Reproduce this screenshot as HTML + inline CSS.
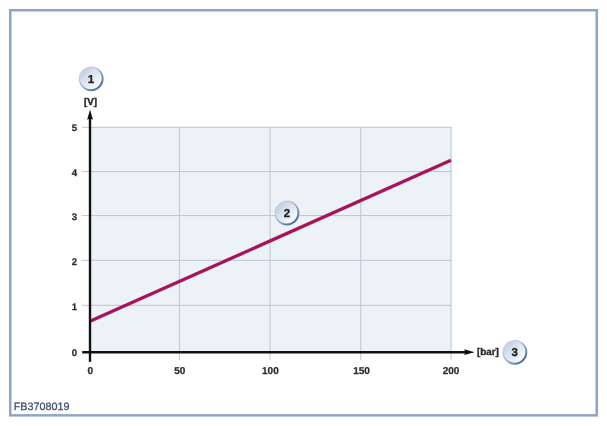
<!DOCTYPE html>
<html>
<head>
<meta charset="utf-8">
<title>FB3708019</title>
<style>
html,body{margin:0;padding:0;background:#fff;}
body{width:607px;height:426px;overflow:hidden;}
svg{display:block;}
text{font-family:"Liberation Sans",Arial,Helvetica,sans-serif;text-rendering:geometricPrecision;}
.tick{font-size:9.6px;font-weight:bold;fill:#2b2b2b;stroke:#2b2b2b;stroke-width:0.25px;}
.unit{font-size:9.8px;font-weight:bold;fill:#2b2b2b;stroke:#2b2b2b;stroke-width:0.4px;}
.num{font-size:11.5px;font-weight:bold;fill:#222;stroke:#222;stroke-width:0.3px;}
.code{font-size:10.75px;fill:#3b4a68;stroke:#3b4a68;stroke-width:0.25px;}
</style>
</head>
<body>
<svg width="607" height="426" viewBox="0 0 607 426">
  <defs>
    <linearGradient id="brim" x1="0.15" y1="0.1" x2="0.85" y2="0.92">
      <stop offset="0" stop-color="#cbd6e5"/>
      <stop offset="0.4" stop-color="#a9bbd4"/>
      <stop offset="0.7" stop-color="#7390b5"/>
      <stop offset="1" stop-color="#45679a"/>
    </linearGradient>
    <linearGradient id="bfill" x1="0.12" y1="0.1" x2="0.85" y2="0.9">
      <stop offset="0" stop-color="#bfcde0"/>
      <stop offset="0.35" stop-color="#d7e0ec"/>
      <stop offset="0.7" stop-color="#e9eef5"/>
      <stop offset="1" stop-color="#f9fbfd"/>
    </linearGradient>
    <g id="bubble">
      <circle cx="0" cy="0" r="12.4" fill="url(#brim)"/>
      <circle cx="-0.45" cy="-0.45" r="10.9" fill="url(#bfill)"/>
    </g>
  </defs>
  <rect x="0" y="0" width="607" height="426" fill="#ffffff"/>
  <!-- frame -->
  <rect x="10.25" y="10.25" width="586.5" height="405.1" fill="none" stroke="#8fa5c6" stroke-width="2.5"/>

  <!-- plot background -->
  <rect x="90" y="126.8" width="361.5" height="225.2" fill="#edf2f6"/>
  <!-- grid -->
  <g stroke="#b9c5db" stroke-width="1" fill="none">
    <path d="M82 127.3H451.5M82 171.6H451.5M82 215.6H451.5M82 260.3H451.5M82 305.3H451.5"/>
    <path d="M179.4 127V360M270 127V360M360.8 127V360M451 127V360"/>
  </g>
  <!-- data line -->
  <path d="M90.5 321.1L451 160.3" stroke="#a6145b" stroke-width="3.3" fill="none"/>
  <!-- axes -->
  <g stroke="#111" stroke-width="2.4" fill="none">
    <path d="M90 361.8V118"/>
    <path d="M82.2 352.3H466"/>
  </g>
  <path d="M90.05 109.6L92.95 119.8L90.05 118.6L87.15 119.8Z" fill="#111"/>
  <path d="M474.6 352.2L464.2 355.1L465.4 352.2L464.2 349.3Z" fill="#111"/>

  <!-- y tick labels -->
  <g class="tick" text-anchor="end">
    <text x="77" y="130.6">5</text>
    <text x="77" y="175.5">4</text>
    <text x="77" y="220.1">3</text>
    <text x="77" y="264.9">2</text>
    <text x="77" y="309.7">1</text>
    <text x="77" y="355.8">0</text>
  </g>
  <!-- x tick labels -->
  <g class="tick" text-anchor="middle" style="font-size:10px">
    <text x="90.3" y="373.7">0</text>
    <text x="179.8" y="373.7">50</text>
    <text x="270.4" y="373.7">100</text>
    <text x="361.5" y="373.7">150</text>
    <text x="451" y="373.7">200</text>
  </g>
  <!-- units -->
  <text class="unit" x="90.5" y="104.8" text-anchor="middle">[V]</text>
  <text class="unit" x="488" y="354.8" text-anchor="middle">[bar]</text>

  <!-- bubbles -->
  <g>
    <use href="#bubble" x="91.2" y="78.8"/>
    <text class="num" x="90.9" y="82.6" text-anchor="middle">1</text>
    <use href="#bubble" x="287" y="213"/>
    <text class="num" x="286.9" y="216.8" text-anchor="middle">2</text>
    <use href="#bubble" x="514.9" y="352.3"/>
    <text class="num" x="514.8" y="356" text-anchor="middle">3</text>
  </g>

  <text class="code" x="13.8" y="409.8">FB3708019</text>
</svg>
</body>
</html>
